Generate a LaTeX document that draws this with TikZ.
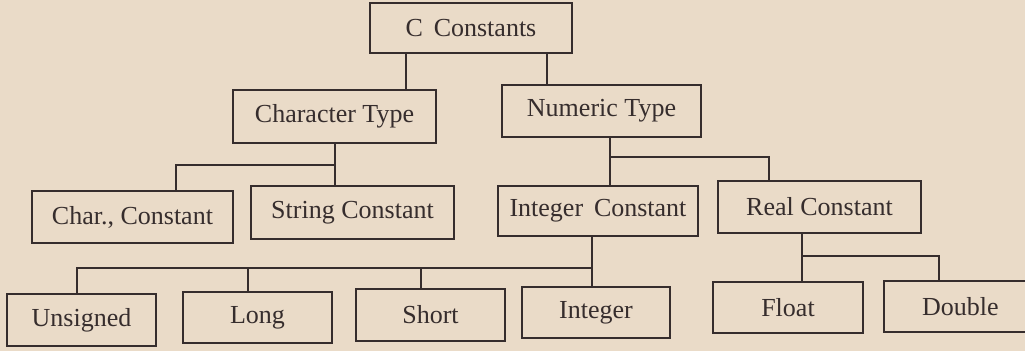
\documentclass[tikz,border=0pt]{standalone}
\usepackage{fontspec}
\setmainfont{Liberation Serif}
\definecolor{paper}{HTML}{EADBC8}
\definecolor{ink}{HTML}{362D2D}
\begin{document}
\begin{tikzpicture}[x=1pt,y=-1pt,
  box/.style={draw=ink,line width=2.5pt,text=ink,inner sep=0pt,
    font=\fontsize{26}{30}\selectfont},
  link/.style={draw=ink,line width=2.5pt,line cap=rect}]
\fill[paper] (0,0) rectangle (1025,351);
\useasboundingbox (0,0) rectangle (1025,351);
% nodes: centre, width, height from the reference
\node[box,minimum width=202pt,minimum height=50pt] (cc)  at (471,28)    {C\, Constants};
\node[box,minimum width=203pt,minimum height=53pt] (ct)  at (334.5,116.5) {Character Type};
\node[box,minimum width=199pt,minimum height=52pt] (nt)  at (601.5,111) {Numeric Type};
\node[box,minimum width=201pt,minimum height=52pt] (chc) at (132.5,217) {Char., Constant};
\node[box,minimum width=203pt,minimum height=53pt] (sc)  at (352.5,212.5) {String Constant};
\node[box,minimum width=200pt,minimum height=50pt] (ic)  at (598,211)   {Integer\, Constant};
\node[box,minimum width=203pt,minimum height=52pt] (rc)  at (819.5,207) {Real Constant};
\node[box,minimum width=149pt,minimum height=52pt] (un)  at (81.5,320)  {Unsigned};
\node[box,minimum width=149pt,minimum height=51pt] (lo)  at (257.5,317.5) {Long};
\node[box,minimum width=149pt,minimum height=52pt] (sh)  at (430.5,315) {Short};
\node[box,minimum width=148pt,minimum height=51pt] (in)  at (596,312.5) {Integer};
\node[box,minimum width=150pt,minimum height=51pt] (fl)  at (788,307.5) {Float};
\node[box,minimum width=156pt,minimum height=51pt,text width=140pt,align=left] (db) at (962,306.5) {\hspace*{30pt}Double};
% helper coordinates
\coordinate (xa) at (406,0);  \coordinate (xb) at (547,0);
\coordinate (xc) at (176,0);  \coordinate (xd) at (335,0);
\coordinate (xe) at (610,0);  \coordinate (xf) at (769,0);
\coordinate (xg) at (77,0);   \coordinate (xh) at (248,0);
\coordinate (xi) at (421,0);  \coordinate (xj) at (592,0);
\coordinate (xk) at (802,0);  \coordinate (xl) at (939,0);
\coordinate (ya) at (0,165);  \coordinate (yb) at (0,157);
\coordinate (yc) at (0,268);  \coordinate (yd) at (0,256);
% connectors
\draw[link] (cc.south -| xa) -- (ct.north -| xa);
\draw[link] (cc.south -| xb) -- (nt.north -| xb);
\draw[link] (ct.south -| xd) -- (sc.north -| xd);
\draw[link] (chc.north -| xc) -- (xc |- ya) -- (xd |- ya);
\draw[link] (nt.south -| xe) -- (ic.north -| xe);
\draw[link] (xe |- yb) -- (xf |- yb) -- (rc.north -| xf);
\draw[link] (ic.south -| xj) -- (in.north -| xj);
\draw[link] (un.north -| xg) -- (xg |- yc) -- (xj |- yc);
\draw[link] (lo.north -| xh) -- (xh |- yc);
\draw[link] (sh.north -| xi) -- (xi |- yc);
\draw[link] (rc.south -| xk) -- (fl.north -| xk);
\draw[link] (xk |- yd) -- (xl |- yd) -- (db.north -| xl);
\end{tikzpicture}
\end{document}
